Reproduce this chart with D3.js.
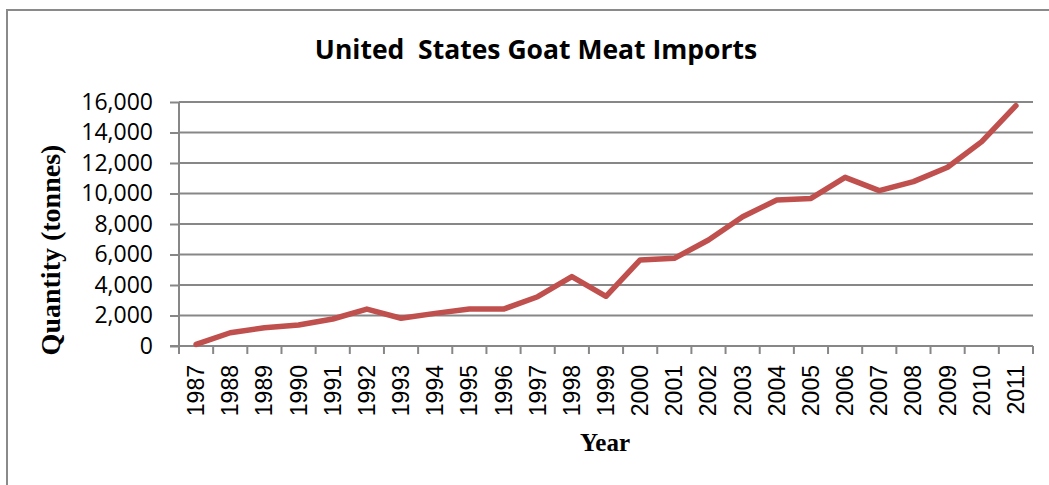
<!DOCTYPE html>
<html>
<head>
<meta charset="utf-8">
<script src="https://cdn.jsdelivr.net/npm/d3@7"></script>
<style>
  html, body { margin: 0; padding: 0; background: #fff; }
  svg { display: block; }
</style>
</head>
<body>
<svg id="chart" width="1049" height="485"></svg>
<script>
const years = ["1987","1988","1989","1990","1991","1992","1993","1994","1995","1996","1997","1998","1999","2000","2001","2002","2003","2004","2005","2006","2007","2008","2009","2010","2011"];
const imports = [100, 870, 1200, 1380, 1770, 2420, 1820, 2140, 2420, 2420, 3230, 4550, 3260, 5640, 5750, 6950, 8480, 9570, 9680, 11060, 10190, 10780, 11720, 13400, 15760];
const yTicks = [0, 2000, 4000, 6000, 8000, 10000, 12000, 14000, 16000];

(function () {
const svg = d3.select("#chart");
const pL = 179, pR = 1033, pT = 102, pB = 346;
const grey = "#878787";

// outer frame
svg.append("rect")
  .attr("x", 7).attr("y", 10)
  .attr("width", 1100).attr("height", 600)
  .attr("fill", "none").attr("stroke", "#8a8a8a").attr("stroke-width", 2);

const x = d3.scaleBand().domain(years).range([pL, pR]);
const y = d3.scaleLinear().domain([0, 16000]).range([pB, pT]);

// gridlines
svg.append("g")
  .selectAll("line").data(yTicks.filter(d => d > 0)).join("line")
  .attr("x1", pL).attr("x2", pR)
  .attr("y1", d => y(d)).attr("y2", d => y(d))
  .attr("stroke", grey).attr("stroke-width", 2);

// y axis
const yAxis = svg.append("g")
  .attr("transform", `translate(${pL},0)`)
  .call(d3.axisLeft(y).tickValues(yTicks).tickSize(9).tickPadding(17)
        .tickFormat(d3.format(",")));
yAxis.select(".domain").attr("stroke", grey).attr("stroke-width", 2)
  .attr("d", `M0,${pT}V${pB}`);
yAxis.selectAll(".tick line").attr("stroke", grey).attr("stroke-width", 2);
yAxis.selectAll(".tick text")
  .attr("font-family", "'Open Sans', sans-serif")
  .attr("font-size", 23).attr("fill", "#000");

// x axis
const xAxis = svg.append("g")
  .attr("transform", `translate(0,${pB})`)
  .call(d3.axisBottom(x).tickSize(0).tickFormat(d => d));
xAxis.select(".domain").attr("stroke", grey).attr("stroke-width", 2)
  .attr("d", `M${pL - 9},0H${pR}`);
const bounds = years.map(d => x(d)).concat([x(years[years.length - 1]) + x.bandwidth()]);
xAxis.append("g").selectAll("line").data(bounds).join("line")
  .attr("x1", d => d).attr("x2", d => d)
  .attr("y1", 0).attr("y2", 8)
  .attr("stroke", grey).attr("stroke-width", 2);
xAxis.selectAll(".tick text")
  .attr("font-family", "'Liberation Sans', Arial, sans-serif")
  .attr("font-size", 23).attr("fill", "#000")
  .attr("text-anchor", "end")
  .attr("dy", null)
  .attr("transform", "translate(0,19) rotate(-90)")
  .attr("x", 0).attr("y", 0)
  .attr("dominant-baseline", "central");

// line
const line = d3.line()
  .x((d, i) => x(years[i]) + x.bandwidth() / 2)
  .y(d => y(d));
svg.append("path")
  .datum(imports)
  .attr("d", line)
  .attr("fill", "none")
  .attr("stroke", "#C0504D")
  .attr("stroke-width", 5.5)
  .attr("stroke-linejoin", "round")
  .attr("stroke-linecap", "round");

// title
svg.append("text")
  .attr("x", 536).attr("y", 59)
  .attr("text-anchor", "middle")
  .attr("font-family", "'Open Sans', sans-serif")
  .attr("font-weight", "bold")
  .attr("font-size", 26.5)
  .style("white-space", "pre")
  .text("United  States Goat Meat Imports");

// axis titles
svg.append("text")
  .attr("transform", "translate(60,250) rotate(-90)")
  .attr("text-anchor", "middle")
  .attr("font-family", "'Liberation Serif', serif")
  .attr("font-weight", "bold")
  .attr("font-size", 28)
  .text("Quantity (tonnes)");

svg.append("text")
  .attr("x", 605).attr("y", 451)
  .attr("text-anchor", "middle")
  .attr("font-family", "'Liberation Serif', serif")
  .attr("font-weight", "bold")
  .attr("font-size", 25)
  .text("Year");
})();
</script>
</body>
</html>
